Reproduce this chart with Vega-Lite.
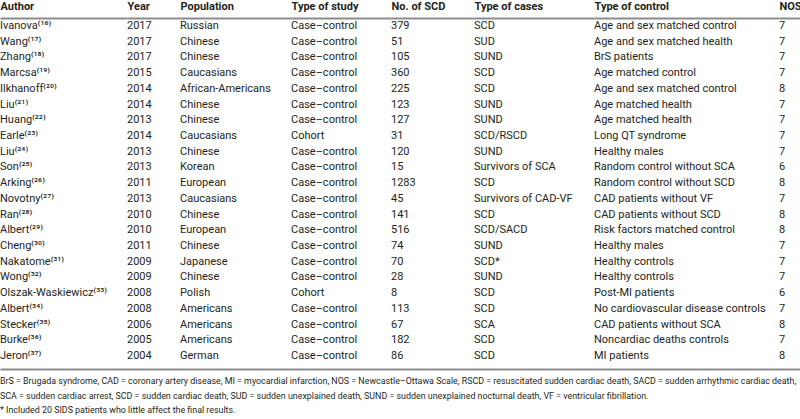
{
  "$schema": "https://vega.github.io/schema/vega-lite/v6.json",
  "padding": 0,
  "spacing": 0,
  "background": "white",
  "config": {
    "view": {"stroke": null},
    "font": "Roboto",
    "text": {"font": "Roboto", "fontSize": 11, "color": "#231f20"},
    "axis": {"labelFont": "Roboto", "labelColor": "#231f20", "labelFontSize": 11, "labelFontWeight": "bold", "domainColor": "#8c8c8c", "domainWidth": 2, "ticks": false, "title": null, "labelAlign": "left", "labelBaseline": "alphabetic", "labelPadding": 9, "labelAngle": 0}
  },
  "datasets": {
    "studies": [
      {"Author": "Ivanova⁽¹⁶⁾", "Year": "2017", "Population": "Russian", "Study": "Case–control", "N": "379", "Cases": "SCD", "Control": "Age and sex matched control", "NOS": "7"},
      {"Author": "Wang⁽¹⁷⁾", "Year": "2017", "Population": "Chinese", "Study": "Case–control", "N": "51", "Cases": "SUD", "Control": "Age and sex matched health", "NOS": "7"},
      {"Author": "Zhang⁽¹⁸⁾", "Year": "2017", "Population": "Chinese", "Study": "Case–control", "N": "105", "Cases": "SUND", "Control": "BrS patients", "NOS": "7"},
      {"Author": "Marcsa⁽¹⁹⁾", "Year": "2015", "Population": "Caucasians", "Study": "Case–control", "N": "360", "Cases": "SCD", "Control": "Age matched control", "NOS": "7"},
      {"Author": "Ilkhanoff⁽²⁰⁾", "Year": "2014", "Population": "African-Americans", "Study": "Case–control", "N": "225", "Cases": "SCD", "Control": "Age and sex matched control", "NOS": "8"},
      {"Author": "Liu⁽²¹⁾", "Year": "2014", "Population": "Chinese", "Study": "Case–control", "N": "123", "Cases": "SUND", "Control": "Age matched health", "NOS": "7"},
      {"Author": "Huang⁽²²⁾", "Year": "2013", "Population": "Chinese", "Study": "Case–control", "N": "127", "Cases": "SUND", "Control": "Age matched health", "NOS": "7"},
      {"Author": "Earle⁽²³⁾", "Year": "2014", "Population": "Caucasians", "Study": "Cohort", "N": "31", "Cases": "SCD/RSCD", "Control": "Long QT syndrome", "NOS": "7"},
      {"Author": "Liu⁽²⁴⁾", "Year": "2013", "Population": "Chinese", "Study": "Case–control", "N": "120", "Cases": "SUND", "Control": "Healthy males", "NOS": "7"},
      {"Author": "Son⁽²⁵⁾", "Year": "2013", "Population": "Korean", "Study": "Case–control", "N": "15", "Cases": "Survivors of SCA", "Control": "Random control without SCA", "NOS": "6"},
      {"Author": "Arking⁽²⁶⁾", "Year": "2011", "Population": "European", "Study": "Case–control", "N": "1283", "Cases": "SCD", "Control": "Random control without SCD", "NOS": "8"},
      {"Author": "Novotny⁽²⁷⁾", "Year": "2013", "Population": "Caucasians", "Study": "Case–control", "N": "45", "Cases": "Survivors of CAD-VF", "Control": "CAD patients without VF", "NOS": "7"},
      {"Author": "Ran⁽²⁸⁾", "Year": "2010", "Population": "Chinese", "Study": "Case–control", "N": "141", "Cases": "SCD", "Control": "CAD patients without SCD", "NOS": "8"},
      {"Author": "Albert⁽²⁹⁾", "Year": "2010", "Population": "European", "Study": "Case–control", "N": "516", "Cases": "SCD/SACD", "Control": "Risk factors matched control", "NOS": "8"},
      {"Author": "Cheng⁽³⁰⁾", "Year": "2011", "Population": "Chinese", "Study": "Case–control", "N": "74", "Cases": "SUND", "Control": "Healthy males", "NOS": "7"},
      {"Author": "Nakatome⁽³¹⁾", "Year": "2009", "Population": "Japanese", "Study": "Case–control", "N": "70", "Cases": "SCD*", "Control": "Healthy controls", "NOS": "7"},
      {"Author": "Wong⁽³²⁾", "Year": "2009", "Population": "Chinese", "Study": "Case–control", "N": "28", "Cases": "SUND", "Control": "Healthy controls", "NOS": "7"},
      {"Author": "Olszak-Waskiewicz⁽³³⁾", "Year": "2008", "Population": "Polish", "Study": "Cohort", "N": "8", "Cases": "SCD", "Control": "Post-MI patients", "NOS": "6"},
      {"Author": "Albert⁽³⁴⁾", "Year": "2008", "Population": "Americans", "Study": "Case–control", "N": "113", "Cases": "SCD", "Control": "No cardiovascular disease controls", "NOS": "7"},
      {"Author": "Stecker⁽³⁵⁾", "Year": "2006", "Population": "Americans", "Study": "Case–control", "N": "67", "Cases": "SCA", "Control": "CAD patients without SCA", "NOS": "8"},
      {"Author": "Burke⁽³⁶⁾", "Year": "2005", "Population": "Americans", "Study": "Case–control", "N": "182", "Cases": "SCD", "Control": "Noncardiac deaths controls", "NOS": "7"},
      {"Author": "Jeron⁽³⁷⁾", "Year": "2004", "Population": "German", "Study": "Case–control", "N": "86", "Cases": "SCD", "Control": "MI patients", "NOS": "8"}
    ],
    "notes": [
      {"text": "BrS = Brugada syndrome, CAD = coronary artery disease, MI = myocardial infarction, NOS = Newcastle–Ottawa Scale, RSCD = resuscitated sudden cardiac death, SACD = sudden arrhythmic cardiac death,"},
      {"text": "SCA = sudden cardiac arrest, SCD = sudden cardiac death, SUD = sudden unexplained death, SUND = sudden unexplained nocturnal death, VF = ventricular fibrillation."},
      {"text": "* Included 20 SIDS patients who little affect the final results."}
    ]
  },
  "vconcat": [
    {
      "spacing": 0,
      "bounds": "flush",
      "hconcat": [
        {"width": 127, "height": 351, "data": {"name": "studies"}, "transform": [{"window": [{"op": "row_number", "as": "rn"}]}],
         "mark": {"type": "text", "align": "left", "baseline": "middle"},
         "encoding": {"x": {"datum": "Author", "type": "nominal", "scale": {"type": "point", "padding": 0, "align": 0}, "axis": {"orient": "top"}},
                      "y": {"field": "rn", "type": "quantitative", "scale": {"domain": [0.491, 22.83], "reverse": true, "zero": false, "nice": false}, "axis": null},
                      "text": {"field": "Author"}}},
        {"width": 53, "height": 351, "data": {"name": "studies"}, "transform": [{"window": [{"op": "row_number", "as": "rn"}]}],
         "mark": {"type": "text", "align": "left", "baseline": "middle"},
         "encoding": {"x": {"datum": "Year", "type": "nominal", "scale": {"type": "point", "padding": 0, "align": 0}, "axis": {"orient": "top"}},
                      "y": {"field": "rn", "type": "quantitative", "scale": {"domain": [0.491, 22.83], "reverse": true, "zero": false, "nice": false}, "axis": null},
                      "text": {"field": "Year"}}},
        {"width": 111, "height": 351, "data": {"name": "studies"}, "transform": [{"window": [{"op": "row_number", "as": "rn"}]}],
         "mark": {"type": "text", "align": "left", "baseline": "middle"},
         "encoding": {"x": {"datum": "Population", "type": "nominal", "scale": {"type": "point", "padding": 0, "align": 0}, "axis": {"orient": "top"}},
                      "y": {"field": "rn", "type": "quantitative", "scale": {"domain": [0.491, 22.83], "reverse": true, "zero": false, "nice": false}, "axis": null},
                      "text": {"field": "Population"}}},
        {"width": 100, "height": 351, "data": {"name": "studies"}, "transform": [{"window": [{"op": "row_number", "as": "rn"}]}],
         "mark": {"type": "text", "align": "left", "baseline": "middle"},
         "encoding": {"x": {"datum": "Type of study", "type": "nominal", "scale": {"type": "point", "padding": 0, "align": 0}, "axis": {"orient": "top"}},
                      "y": {"field": "rn", "type": "quantitative", "scale": {"domain": [0.491, 22.83], "reverse": true, "zero": false, "nice": false}, "axis": null},
                      "text": {"field": "Study"}}},
        {"width": 83, "height": 351, "data": {"name": "studies"}, "transform": [{"window": [{"op": "row_number", "as": "rn"}]}],
         "mark": {"type": "text", "align": "left", "baseline": "middle"},
         "encoding": {"x": {"datum": "No. of SCD", "type": "nominal", "scale": {"type": "point", "padding": 0, "align": 0}, "axis": {"orient": "top"}},
                      "y": {"field": "rn", "type": "quantitative", "scale": {"domain": [0.491, 22.83], "reverse": true, "zero": false, "nice": false}, "axis": null},
                      "text": {"field": "N"}}},
        {"width": 120, "height": 351, "data": {"name": "studies"}, "transform": [{"window": [{"op": "row_number", "as": "rn"}]}],
         "mark": {"type": "text", "align": "left", "baseline": "middle"},
         "encoding": {"x": {"datum": "Type of cases", "type": "nominal", "scale": {"type": "point", "padding": 0, "align": 0}, "axis": {"orient": "top"}},
                      "y": {"field": "rn", "type": "quantitative", "scale": {"domain": [0.491, 22.83], "reverse": true, "zero": false, "nice": false}, "axis": null},
                      "text": {"field": "Cases"}}},
        {"width": 185, "height": 351, "data": {"name": "studies"}, "transform": [{"window": [{"op": "row_number", "as": "rn"}]}],
         "mark": {"type": "text", "align": "left", "baseline": "middle"},
         "encoding": {"x": {"datum": "Type of control", "type": "nominal", "scale": {"type": "point", "padding": 0, "align": 0}, "axis": {"orient": "top"}},
                      "y": {"field": "rn", "type": "quantitative", "scale": {"domain": [0.491, 22.83], "reverse": true, "zero": false, "nice": false}, "axis": null},
                      "text": {"field": "Control"}}},
        {"width": 21, "height": 351, "data": {"name": "studies"}, "transform": [{"window": [{"op": "row_number", "as": "rn"}]}],
         "mark": {"type": "text", "align": "left", "baseline": "middle"},
         "encoding": {"x": {"datum": "NOS", "type": "nominal", "scale": {"type": "point", "padding": 0, "align": 0}, "axis": {"orient": "top"}},
                      "y": {"field": "rn", "type": "quantitative", "scale": {"domain": [0.491, 22.83], "reverse": true, "zero": false, "nice": false}, "axis": null},
                      "text": {"field": "NOS"}}}
      ]
    },
    {
      "width": 800, "height": 48,
      "data": {"name": "notes"},
      "transform": [{"window": [{"op": "row_number", "as": "line"}]}],
      "mark": {"type": "text", "align": "left", "baseline": "middle", "fontSize": 8.9},
      "encoding": {
        "x": {"datum": "notes", "type": "nominal", "scale": {"type": "point", "padding": 0, "align": 0}, "axis": {"orient": "top", "labels": false}},
        "y": {"field": "line", "type": "quantitative", "scale": {"domain": [0.172, 3.48], "reverse": true, "zero": false, "nice": false}, "axis": null},
        "text": {"field": "text"}
      }
    }
  ]
}
